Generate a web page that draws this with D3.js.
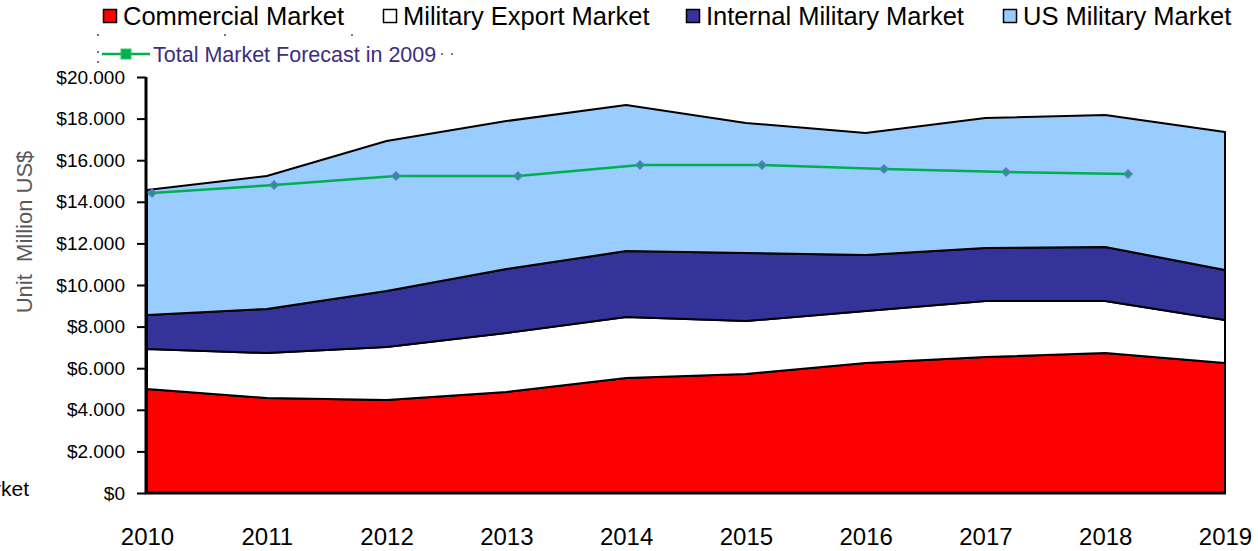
<!DOCTYPE html>
<html><head><meta charset="utf-8">
<script src="https://cdn.jsdelivr.net/npm/d3@7/dist/d3.min.js"></script>
<style>body{margin:0;background:#fff}svg{display:block;font-family:Arial,"Liberation Sans",sans-serif}</style>
</head><body><svg id="c" width="1258" height="551"></svg>
<script>
const years = [2010,2011,2012,2013,2014,2015,2016,2017,2018,2019];
const commercial = [5000,4570,4470,4860,5530,5720,6250,6540,6730,6250];
const militaryExport = [1920,2160,2550,2830,2930,2550,2500,2690,2500,2070];
const internalMilitary = [1640,2120,2690,3080,3170,3270,2690,2550,2600,2400];
const usMilitary = [6010,6390,7210,7110,7020,6250,5870,6250,6340,6640];
const forecastYears = [2010,2011,2012,2013,2014,2015,2016,2017,2018];
const forecast2009 = [14420,14810,15240,15240,15770,15770,15580,15430,15340];
const yTicks = [0,2000,4000,6000,8000,10000,12000,14000,16000,18000,20000];
const seriesNames = ["Commercial Market","Military Export Market","Internal Military Market","US Military Market"];
const seriesColors = ["#ff0000","#ffffff","#333399","#99ccff"];

const svg = d3.select("#c");
const x = d3.scaleLinear().domain([2010,2019]).range([147,1225]);
const xf = d3.scaleLinear().domain([2010,2018]).range([152,1128]);
const y = d3.scaleLinear().domain([0,20000]).range([493,77]);

const rows = years.map((yr,i)=>({year:yr, c:commercial[i], e:militaryExport[i], m:internalMilitary[i], u:usMilitary[i]}));
const stack = d3.stack().keys(["c","e","m","u"])(rows);
const area = d3.area().x(d=>x(d.data.year)).y0(d=>y(d[0])).y1(d=>y(d[1]));
svg.append("g").selectAll("path").data(stack).join("path")
  .attr("d",area).attr("fill",(d,i)=>seriesColors[i]).attr("stroke","#000").attr("stroke-width",2).attr("stroke-linejoin","round");

// axes
const yAxis = svg.append("g").attr("transform","translate(146,0)")
  .call(d3.axisLeft(y).tickValues(yTicks).tickSize(9).tickPadding(12)
    .tickFormat(v=> v===0 ? "$0" : "$"+d3.format(",")(v).replace(",",".")));
yAxis.select(".domain").attr("stroke","#000").attr("stroke-width",3).attr("d","M0,77V494");
yAxis.selectAll(".tick line").attr("stroke","#000").attr("stroke-width",2);
yAxis.selectAll("text").attr("font-size",19).attr("fill","#000").attr("font-family","Arial,'Liberation Sans',sans-serif");

svg.append("line").attr("x1",145).attr("x2",1226).attr("y1",493).attr("y2",493).attr("stroke","#000").attr("stroke-width",3);

const xAxis = svg.append("g").attr("transform","translate(0,493)")
  .call(d3.axisBottom(x).tickValues(years).tickSize(0).tickPadding(35).tickFormat(d3.format("d")));
xAxis.select(".domain").remove();
xAxis.selectAll("text").attr("font-size",24).attr("fill","#000").attr("font-family","Arial,'Liberation Sans',sans-serif");

// forecast line
svg.append("path").datum(forecastYears.map((yr,i)=>[yr,forecast2009[i]]))
  .attr("d",d3.line().x(d=>xf(d[0])).y(d=>y(d[1])))
  .attr("fill","none").attr("stroke","#00b050").attr("stroke-width",2.5);
const mk = svg.append("g").selectAll("g").data(forecastYears.map((yr,i)=>[yr,forecast2009[i]])).join("g")
  .attr("transform",d=>`translate(${xf(d[0])},${y(d[1])})`);
mk.append("path").attr("d","M0,-5L5,0L0,5L-5,0Z").attr("fill","#4f7fbf");
mk.append("circle").attr("r",1.8).attr("fill","#00b050");

// y title
svg.append("text").attr("transform","translate(32,232) rotate(-90)").attr("text-anchor","middle")
  .attr("font-size",22).attr("fill","#595959").attr("xml:space","preserve").style("white-space","pre").text("Unit  Million US$");

// clipped legend text at bottom-left
svg.append("text").attr("x",29).attr("y",496).attr("text-anchor","end").attr("font-size",21).attr("fill","#000").text("Market");

// top legend
const legX = [103,383,686,1003];
const lg = svg.append("g").selectAll("g").data(seriesNames).join("g").attr("transform",(d,i)=>`translate(${legX[i]},0)`);
lg.append("rect").attr("x",0.5).attr("y",9.5).attr("width",13).attr("height",13).attr("fill",(d,i)=>seriesColors[i]).attr("stroke","#000").attr("stroke-width",1.5);
lg.append("text").attr("x",20).attr("y",25).attr("font-size",25.5).attr("fill","#000").text(d=>d);

// forecast legend (dotted frame marks)
const dots = [[98,35],[225,35],[352,35],[98,52],[442,54],[452,54],[98,62]];
svg.append("g").selectAll("circle").data(dots).join("circle").attr("cx",d=>d[0]).attr("cy",d=>d[1]).attr("r",0.9).attr("fill","#333");
svg.append("line").attr("x1",102).attr("x2",150).attr("y1",54).attr("y2",54).attr("stroke","#00b050").attr("stroke-width",2.5);
svg.append("rect").attr("x",121).attr("y",49).attr("width",10).attr("height",10).attr("fill","#00b050").attr("stroke","#33cc66");
svg.append("text").attr("x",153).attr("y",62).attr("font-size",21.5).attr("fill","#3b2e7e").text("Total Market Forecast in 2009");
</script></body></html>
